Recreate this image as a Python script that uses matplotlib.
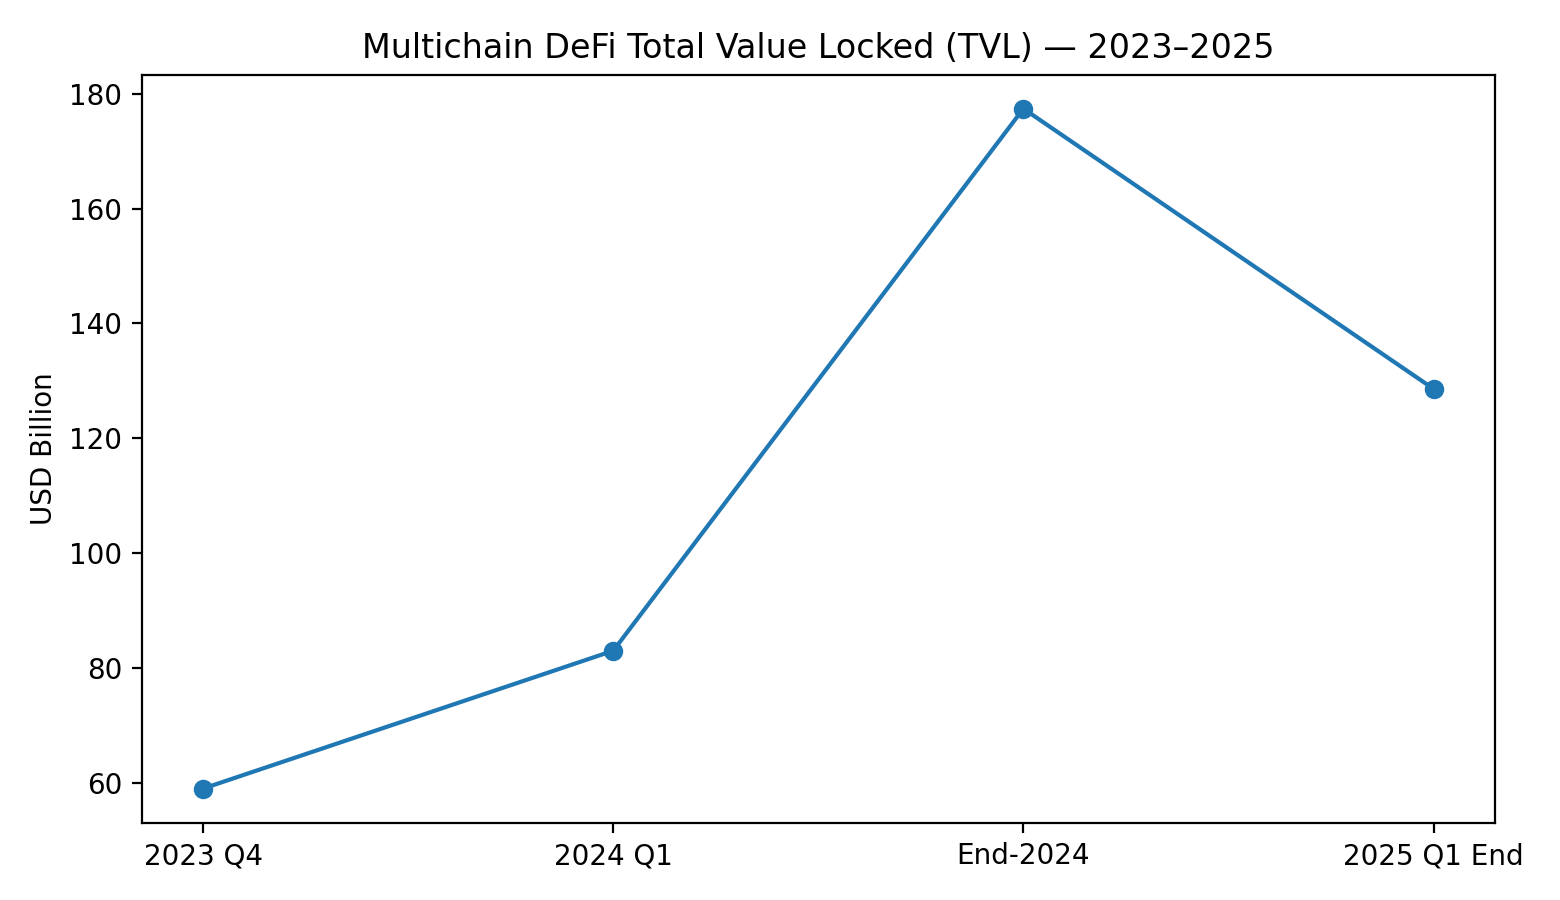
import matplotlib.pyplot as plt

periods = ["2023 Q4", "2024 Q1", "End-2024", "2025 Q1 End"]
tvl_billion = [59.0, 83.0, 177.4, 128.6]


def main():
    fig, ax = plt.subplots(figsize=(7.8, 4.5))
    ax.plot(periods, tvl_billion, marker="o")
    ax.set_ylabel("USD Billion")
    ax.set_title("Multichain DeFi Total Value Locked (TVL) — 2023–2025")
    fig.tight_layout()
    fig.savefig("out.png", dpi=200)
    plt.close(fig)


if __name__ == "__main__":
    main()
